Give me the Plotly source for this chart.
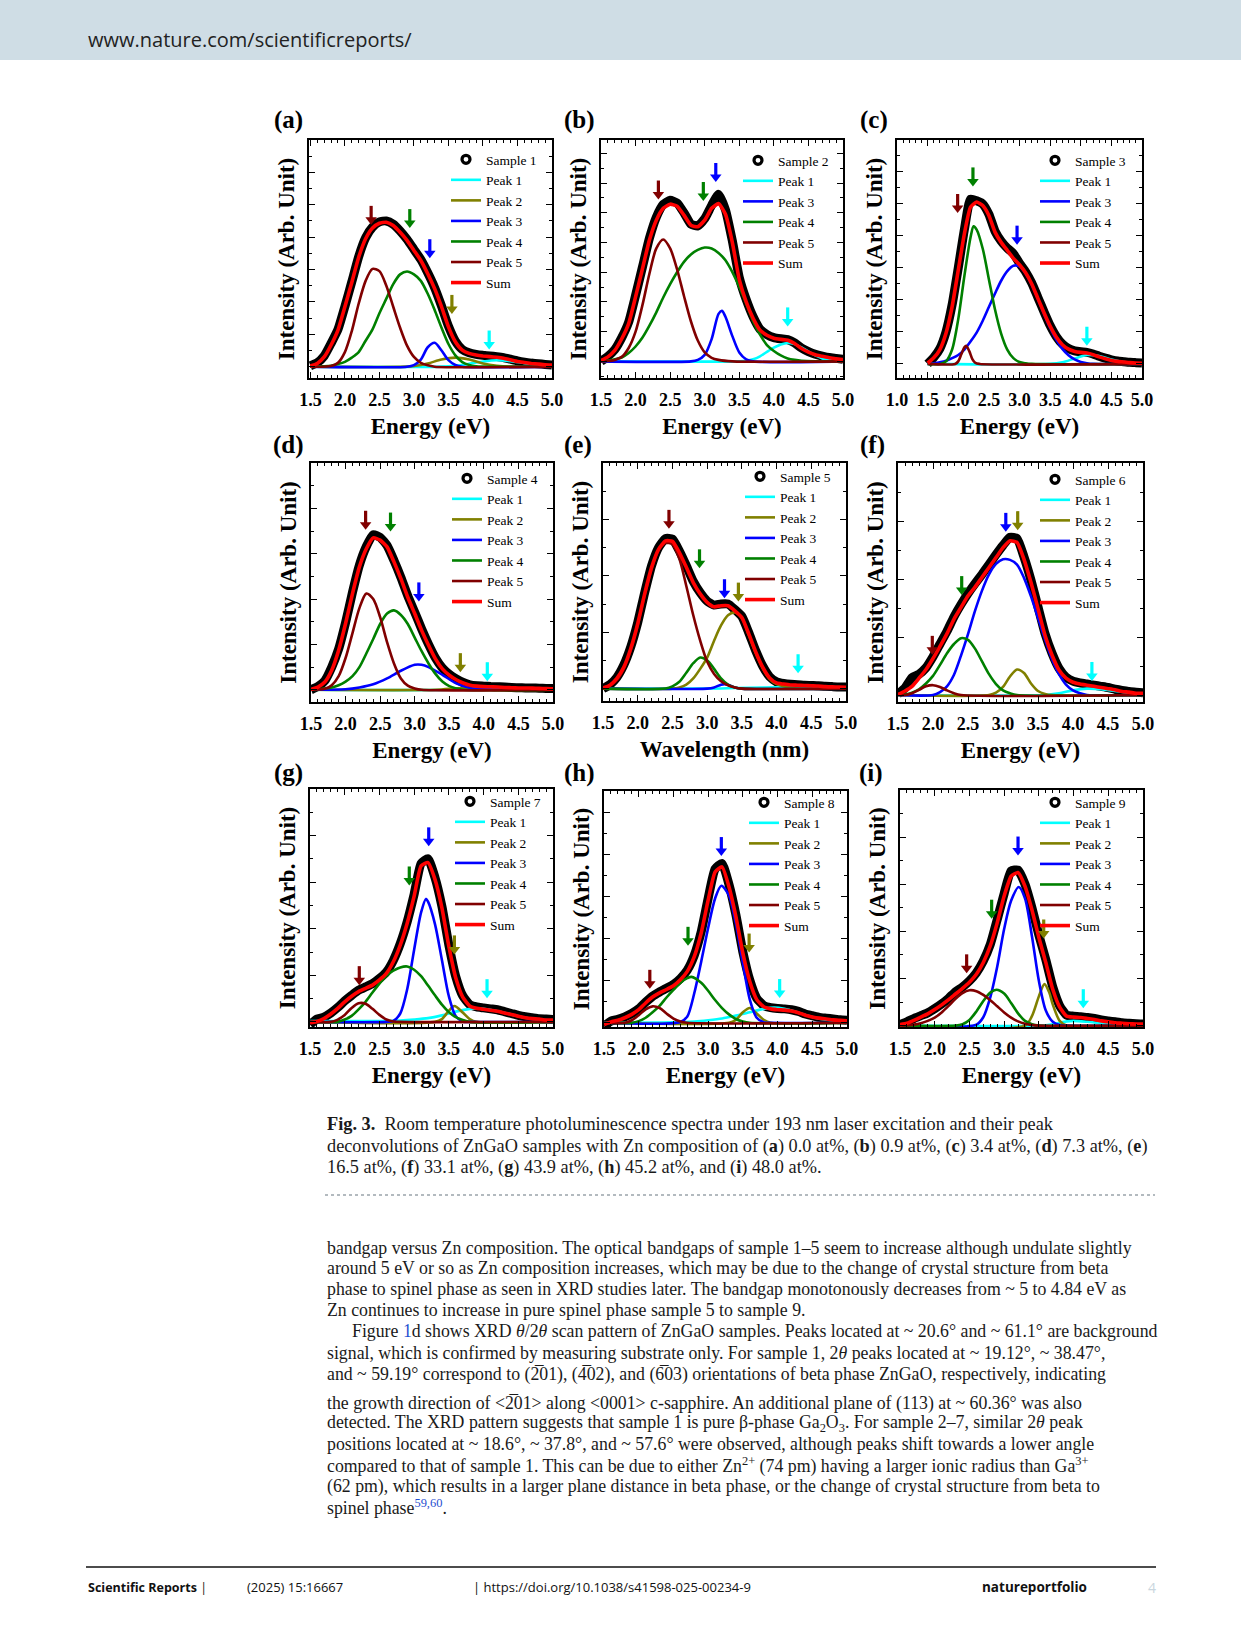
import plotly.graph_objects as go

W, H = 1241, 1630
SERIF = "Liberation Serif"
SANS = "Open Sans"

# ---------------- data ----------------
ENERGY = [1.5, 1.6, 1.7, 1.8, 1.9, 2.0, 2.1, 2.2, 2.3, 2.4, 2.5, 2.6, 2.7, 2.8, 2.9, 3.0,
          3.1, 3.2, 3.3, 3.4, 3.5, 3.6, 3.7, 3.8, 3.9, 4.0, 4.1, 4.2, 4.3, 4.4, 4.5, 4.6,
          4.7, 4.8, 4.9, 5.0]

# (a) Sample 1
A_SAMPLE = [0.03, 0.12, 0.33, 0.72, 1.15, 1.86, 2.62, 3.40, 3.98, 4.31, 4.47, 4.50, 4.40, 4.19, 3.93, 3.62,
            3.31, 2.90, 2.44, 1.87, 1.25, 0.79, 0.53, 0.43, 0.38, 0.35, 0.33, 0.31, 0.28, 0.23, 0.18, 0.14,
            0.11, 0.09, 0.07, 0.05]
A_SUM = [0.02, 0.10, 0.30, 0.67, 1.13, 1.85, 2.60, 3.38, 3.95, 4.28, 4.43, 4.46, 4.36, 4.15, 3.90, 3.59,
         3.28, 2.87, 2.41, 1.85, 1.23, 0.77, 0.51, 0.41, 0.36, 0.33, 0.31, 0.29, 0.26, 0.21, 0.16, 0.13,
         0.10, 0.08, 0.06, 0.05]
A_P1_X = [1.5, 3.4, 3.6, 3.8, 4.0, 4.2, 4.4, 4.6, 4.8, 5.0]
A_P1_Y = [0, 0, 0.03, 0.09, 0.16, 0.20, 0.17, 0.11, 0.06, 0.03]
A_P2_X = [1.5, 2.9, 3.0, 3.2, 3.4, 3.6, 3.8, 4.0, 4.2, 4.4, 5.0]
A_P2_Y = [0, 0, 0.02, 0.10, 0.22, 0.28, 0.22, 0.10, 0.03, 0, 0]
A_P3_X = [1.5, 2.9, 3.0, 3.1, 3.2, 3.3, 3.4, 3.5, 3.6, 3.7, 5.0]
A_P3_Y = [0, 0, 0.05, 0.22, 0.60, 0.74, 0.50, 0.20, 0.05, 0, 0]
A_P4_X = [1.5, 1.7, 1.8, 1.9, 2.0, 2.1, 2.2, 2.3, 2.4, 2.5, 2.6, 2.7, 2.8, 2.9, 3.0, 3.1, 3.2, 3.3,
          3.4, 3.5, 3.6, 3.7, 3.8, 3.9, 4.0, 5.0]
A_P4_Y = [0, 0.01, 0.03, 0.08, 0.15, 0.28, 0.45, 0.80, 1.15, 1.65, 2.10, 2.55, 2.85, 2.94, 2.85, 2.65,
          2.25, 1.75, 1.20, 0.70, 0.35, 0.14, 0.05, 0.01, 0, 0]
A_P5_X = [1.5, 1.8, 1.9, 2.0, 2.1, 2.2, 2.3, 2.4, 2.5, 2.6, 2.7, 2.8, 2.9, 3.0, 3.1, 3.2, 3.3, 5.0]
A_P5_Y = [0, 0.02, 0.12, 0.45, 1.10, 1.95, 2.65, 3.02, 2.95, 2.50, 1.85, 1.20, 0.65, 0.30, 0.12, 0.04, 0, 0]
A_ARROW_X = [2.38, 2.94, 3.23, 3.55, 4.09]
A_ARROW_Y = [4.41, 4.31, 3.38, 1.66, 0.56]
A_ARROW_PEAK = [5, 4, 3, 2, 1]

# (b) Sample 2
B_SAMPLE = [0.0, 0.17, 0.40, 0.80, 1.32, 2.22, 3.18, 4.14, 4.85, 5.28, 5.42, 5.33, 5.00, 4.62, 4.56, 4.80,
            5.25, 5.62, 5.10, 4.05, 2.82, 2.08, 1.50, 1.08, 0.90, 0.80, 0.76, 0.73, 0.62, 0.45, 0.33, 0.24,
            0.18, 0.13, 0.10, 0.07]
B_SUM = [0.03, 0.15, 0.37, 0.76, 1.27, 2.17, 3.12, 4.08, 4.75, 5.15, 5.29, 5.22, 4.92, 4.58, 4.53, 4.75,
         5.15, 5.31, 4.95, 4.00, 2.75, 2.00, 1.45, 1.05, 0.88, 0.78, 0.74, 0.71, 0.60, 0.43, 0.31, 0.22,
         0.17, 0.12, 0.09, 0.06]
B_P1_X = [1.5, 3.5, 3.6, 3.7, 3.8, 3.9, 4.0, 4.1, 4.2, 4.3, 4.4, 4.5, 4.6, 4.7, 4.8, 4.9, 5.0]
B_P1_Y = [0, 0, 0.02, 0.07, 0.17, 0.32, 0.46, 0.57, 0.62, 0.58, 0.47, 0.33, 0.20, 0.10, 0.05, 0.02, 0]
B_P3_X = [1.5, 2.8, 2.9, 3.0, 3.1, 3.2, 3.25, 3.3, 3.4, 3.5, 3.6, 3.7, 5.0]
B_P3_Y = [0, 0, 0.05, 0.22, 0.75, 1.60, 1.70, 1.50, 0.85, 0.30, 0.07, 0, 0]
B_P4_X = [1.5, 1.6, 1.7, 1.8, 1.9, 2.0, 2.1, 2.2, 2.3, 2.4, 2.5, 2.6, 2.7, 2.8, 2.9, 3.0, 3.1, 3.2,
          3.3, 3.4, 3.5, 3.6, 3.7, 3.8, 3.9, 4.0, 4.1, 4.2, 4.3, 4.4, 5.0]
B_P4_Y = [0.01, 0.03, 0.07, 0.13, 0.28, 0.50, 0.80, 1.20, 1.65, 2.15, 2.60, 3.00, 3.35, 3.60, 3.75, 3.83,
          3.80, 3.65, 3.40, 3.00, 2.50, 1.95, 1.35, 0.90, 0.55, 0.35, 0.20, 0.10, 0.05, 0.02, 0]
B_P5_X = [1.5, 1.6, 1.7, 1.8, 1.9, 2.0, 2.1, 2.2, 2.3, 2.4, 2.5, 2.6, 2.7, 2.8, 2.9, 3.0, 3.1, 3.2, 3.4, 5.0]
B_P5_Y = [0, 0.01, 0.05, 0.15, 0.45, 1.00, 1.90, 2.95, 3.80, 4.10, 3.80, 3.10, 2.20, 1.35, 0.70, 0.30,
          0.12, 0.05, 0, 0]
B_ARROW_X = [2.33, 2.98, 3.16, 4.20]
B_ARROW_Y = [5.48, 5.43, 6.07, 1.21]
B_ARROW_PEAK = [5, 4, 3, 1]

# (c) Sample 3
C_SAMPLE = [0.0, 0.20, 0.48, 1.00, 1.85, 3.00, 4.20, 5.15, 5.10, 5.00, 4.68, 4.15, 3.84, 3.62, 3.45, 3.15,
            2.88, 2.53, 2.08, 1.63, 1.20, 0.86, 0.62, 0.48, 0.41, 0.38, 0.36, 0.31, 0.24, 0.18, 0.13, 0.09,
            0.07, 0.05, 0.04, 0.03]
C_SUM = [0.03, 0.19, 0.45, 0.96, 1.79, 2.93, 4.07, 4.90, 5.06, 4.95, 4.64, 4.12, 3.80, 3.55, 3.30, 3.10,
         2.85, 2.50, 2.05, 1.60, 1.18, 0.84, 0.60, 0.46, 0.39, 0.36, 0.34, 0.29, 0.22, 0.16, 0.11, 0.08,
         0.06, 0.04, 0.03, 0.02]
C_P1_X = [1.5, 3.5, 3.7, 3.9, 4.1, 4.3, 4.5, 4.7, 4.9, 5.0]
C_P1_Y = [0, 0, 0.05, 0.17, 0.28, 0.25, 0.14, 0.06, 0.02, 0.01]
C_P3_X = [1.5, 1.6, 1.8, 1.9, 2.0, 2.1, 2.2, 2.3, 2.4, 2.5, 2.6, 2.7, 2.8, 2.9, 3.0, 3.1, 3.2, 3.3,
          3.4, 3.5, 3.6, 3.7, 3.8, 3.9, 4.0, 4.1, 4.2, 5.0]
C_P3_Y = [0, 0.02, 0.10, 0.18, 0.28, 0.45, 0.70, 0.98, 1.35, 1.78, 2.20, 2.60, 2.90, 3.07, 3.05, 2.83,
          2.48, 2.03, 1.57, 1.13, 0.76, 0.47, 0.27, 0.14, 0.06, 0.02, 0, 0]
C_P4_X = [1.5, 1.7, 1.8, 1.9, 2.0, 2.1, 2.2, 2.25, 2.3, 2.4, 2.5, 2.6, 2.7, 2.8, 2.9, 3.0, 3.1, 3.2, 5.0]
C_P4_Y = [0, 0, 0.08, 0.45, 1.40, 2.75, 3.95, 4.30, 4.20, 3.60, 2.65, 1.70, 0.95, 0.45, 0.18, 0.06, 0.02, 0, 0]
C_P5_X = [1.5, 1.95, 2.0, 2.05, 2.1, 2.13, 2.18, 2.23, 2.28, 2.35, 5.0]
C_P5_Y = [0, 0, 0.08, 0.30, 0.52, 0.57, 0.40, 0.15, 0.03, 0, 0]
C_ARROW_X = [1.99, 2.24, 2.96, 4.10]
C_ARROW_Y = [4.75, 5.58, 3.76, 0.60]
C_ARROW_PEAK = [5, 4, 3, 1]

# (d) Sample 4
D_SAMPLE = [0.0, 0.07, 0.20, 0.50, 0.90, 1.48, 2.15, 2.75, 3.16, 3.42, 3.36, 3.18, 2.85, 2.48, 2.07, 1.71,
            1.34, 1.00, 0.70, 0.48, 0.34, 0.24, 0.16, 0.11, 0.09, 0.08, 0.07, 0.065, 0.06, 0.05, 0.045,
            0.04, 0.04, 0.035, 0.03, 0.03]
D_SUM = [0.01, 0.06, 0.17, 0.43, 0.87, 1.46, 2.12, 2.71, 3.11, 3.35, 3.30, 3.15, 2.82, 2.45, 2.04, 1.68,
         1.31, 0.98, 0.68, 0.46, 0.32, 0.22, 0.15, 0.10, 0.08, 0.07, 0.065, 0.06, 0.05, 0.045, 0.04, 0.04,
         0.035, 0.03, 0.025, 0.02]
D_P1_X = [1.5, 3.5, 3.8, 4.0, 4.3, 4.6, 5.0]
D_P1_Y = [0, 0, 0.03, 0.05, 0.03, 0.01, 0]
D_P2_X = [1.5, 3.3, 3.7, 4.1, 5.0]
D_P2_Y = [0, 0, 0.04, 0, 0]
D_P3_X = [1.5, 2.0, 2.2, 2.4, 2.6, 2.8, 3.0, 3.1, 3.2, 3.4, 3.6, 3.8, 4.0, 5.0]
D_P3_Y = [0, 0.01, 0.05, 0.12, 0.25, 0.42, 0.55, 0.55, 0.50, 0.33, 0.14, 0.04, 0.01, 0]
D_P4_X = [1.5, 1.6, 1.8, 1.9, 2.0, 2.1, 2.2, 2.3, 2.4, 2.5, 2.6, 2.7, 2.8, 2.9, 3.0, 3.1, 3.2, 3.3,
          3.4, 3.5, 3.6, 3.7, 5.0]
D_P4_Y = [0, 0.01, 0.05, 0.10, 0.18, 0.30, 0.50, 0.80, 1.12, 1.45, 1.68, 1.75, 1.65, 1.45, 1.15, 0.85,
          0.58, 0.35, 0.18, 0.08, 0.03, 0, 0]
D_P5_X = [1.5, 1.7, 1.8, 1.9, 2.0, 2.1, 2.2, 2.3, 2.4, 2.5, 2.6, 2.7, 2.8, 2.9, 3.0, 3.1, 5.0]
D_P5_Y = [0, 0.02, 0.10, 0.30, 0.70, 1.25, 1.80, 2.12, 2.00, 1.60, 1.05, 0.58, 0.25, 0.09, 0.03, 0, 0]
D_ARROW_X = [2.29, 2.65, 3.06, 3.66, 4.05]
D_ARROW_Y = [3.55, 3.51, 1.97, 0.41, 0.21]
D_ARROW_PEAK = [5, 4, 3, 2, 1]

# (e) Sample 5
E_SAMPLE = [0.0, 0.07, 0.20, 0.42, 0.74, 1.17, 1.70, 2.18, 2.50, 2.66, 2.65, 2.44, 2.18, 1.90, 1.70, 1.55,
            1.48, 1.50, 1.50, 1.40, 1.28, 0.99, 0.67, 0.40, 0.21, 0.12, 0.09, 0.075, 0.07, 0.06, 0.055,
            0.05, 0.04, 0.035, 0.03, 0.03]
E_SUM = [0.01, 0.06, 0.18, 0.38, 0.71, 1.15, 1.68, 2.15, 2.47, 2.62, 2.61, 2.41, 2.15, 1.88, 1.68, 1.53,
         1.45, 1.47, 1.47, 1.38, 1.26, 0.97, 0.65, 0.38, 0.19, 0.10, 0.08, 0.065, 0.06, 0.055, 0.05,
         0.045, 0.035, 0.03, 0.028, 0.025]
E_P1_X = [1.5, 3.0, 3.4, 3.8, 4.2, 4.6, 5.0]
E_P1_Y = [0, 0, 0.01, 0.02, 0.02, 0.01, 0]
E_P2_X = [1.5, 2.5, 2.6, 2.7, 2.8, 2.9, 3.0, 3.1, 3.2, 3.3, 3.4, 3.5, 3.6, 3.7, 3.8, 3.9, 4.0, 4.1,
          4.2, 4.3, 5.0]
E_P2_Y = [0, 0, 0.02, 0.07, 0.18, 0.35, 0.55, 0.85, 1.12, 1.30, 1.35, 1.25, 0.95, 0.63, 0.36, 0.17,
          0.08, 0.04, 0.015, 0, 0]
E_P3_X = [1.5, 3.0, 3.1, 3.2, 3.25, 3.3, 3.4, 3.5, 5.0]
E_P3_Y = [0, 0, 0.02, 0.07, 0.08, 0.07, 0.02, 0, 0]
E_P4_X = [1.5, 2.4, 2.5, 2.6, 2.7, 2.8, 2.9, 3.0, 3.1, 3.2, 3.3, 3.4, 3.5, 5.0]
E_P4_Y = [0, 0, 0.04, 0.12, 0.28, 0.45, 0.55, 0.50, 0.35, 0.18, 0.07, 0.02, 0, 0]
E_P5_X = [1.5, 1.6, 1.7, 1.8, 1.9, 2.0, 2.1, 2.2, 2.3, 2.4, 2.5, 2.6, 2.7, 2.8, 2.9, 3.0, 3.1, 3.2,
          3.3, 3.4, 3.5, 5.0]
E_P5_Y = [0, 0.05, 0.15, 0.35, 0.68, 1.12, 1.65, 2.12, 2.45, 2.58, 2.56, 2.30, 1.82, 1.30, 0.85, 0.48,
          0.26, 0.13, 0.06, 0.02, 0, 0]
E_ARROW_X = [2.45, 2.89, 3.25, 3.45, 4.31]
E_ARROW_Y = [2.85, 2.15, 1.62, 1.56, 0.29]
E_ARROW_PEAK = [5, 4, 3, 2, 1]

# (f) Sample 6
F_SAMPLE = [0.02, 0.12, 0.30, 0.36, 0.47, 0.66, 0.88, 1.10, 1.35, 1.56, 1.75, 1.92, 2.08, 2.25, 2.42, 2.58,
            2.72, 2.70, 2.38, 1.98, 1.52, 1.06, 0.72, 0.46, 0.31, 0.24, 0.21, 0.19, 0.17, 0.15, 0.13, 0.10,
            0.08, 0.06, 0.05, 0.04]
F_SUM = [0.01, 0.07, 0.15, 0.29, 0.44, 0.63, 0.84, 1.06, 1.31, 1.51, 1.71, 1.86, 2.03, 2.20, 2.37, 2.54,
         2.66, 2.63, 2.34, 1.94, 1.49, 1.03, 0.69, 0.43, 0.29, 0.22, 0.19, 0.17, 0.15, 0.13, 0.11, 0.09,
         0.06, 0.05, 0.03, 0.03]
F_P1_X = [1.5, 3.6, 3.8, 4.0, 4.2, 4.4, 4.6, 4.8, 5.0]
F_P1_Y = [0, 0, 0.03, 0.08, 0.11, 0.10, 0.07, 0.04, 0.02]
F_P2_X = [1.5, 2.8, 2.9, 3.0, 3.1, 3.2, 3.3, 3.4, 3.5, 3.6, 3.7, 5.0]
F_P2_Y = [0, 0, 0.04, 0.14, 0.32, 0.44, 0.38, 0.20, 0.07, 0.02, 0, 0]
F_P3_X = [1.5, 2.0, 2.1, 2.2, 2.3, 2.4, 2.5, 2.6, 2.7, 2.8, 2.9, 3.0, 3.1, 3.2, 3.3, 3.4, 3.5, 3.6,
          3.7, 3.8, 3.9, 4.0, 4.1, 4.2, 5.0]
F_P3_Y = [0, 0, 0.05, 0.15, 0.35, 0.68, 1.05, 1.45, 1.80, 2.08, 2.26, 2.34, 2.33, 2.25, 2.02, 1.70,
          1.33, 0.96, 0.62, 0.36, 0.18, 0.08, 0.03, 0, 0]
F_P4_X = [1.5, 1.6, 1.7, 1.8, 1.9, 2.0, 2.1, 2.2, 2.3, 2.4, 2.5, 2.6, 2.7, 2.8, 2.9, 3.0, 3.1, 3.2, 5.0]
F_P4_Y = [0, 0.01, 0.04, 0.10, 0.20, 0.33, 0.52, 0.72, 0.88, 0.98, 0.95, 0.80, 0.58, 0.36, 0.19, 0.08,
          0.03, 0, 0]
F_P5_X = [1.5, 1.6, 1.7, 1.8, 1.9, 2.0, 2.1, 2.2, 2.3, 2.4, 5.0]
F_P5_Y = [0, 0, 0.03, 0.09, 0.15, 0.17, 0.14, 0.08, 0.03, 0, 0]
F_ARROW_X = [1.99, 2.41, 3.04, 3.21, 4.27]
F_ARROW_Y = [0.71, 1.74, 2.83, 2.86, 0.26]
F_ARROW_PEAK = [5, 4, 3, 2, 1]

# (g) Sample 7
G_SAMPLE = [-0.06, 0.06, 0.10, 0.19, 0.31, 0.45, 0.57, 0.68, 0.75, 0.82, 0.93, 1.07, 1.32, 1.68, 2.15, 2.74,
            3.40, 3.50, 3.10, 2.48, 1.65, 0.97, 0.56, 0.37, 0.32, 0.30, 0.28, 0.26, 0.22, 0.18, 0.14, 0.11,
            0.09, 0.07, 0.06, 0.05]
G_SUM = [-0.02, 0.01, 0.07, 0.17, 0.29, 0.43, 0.55, 0.65, 0.72, 0.79, 0.90, 1.04, 1.29, 1.65, 2.12, 2.70,
         3.35, 3.42, 3.06, 2.45, 1.62, 0.94, 0.53, 0.34, 0.29, 0.27, 0.25, 0.23, 0.19, 0.16, 0.12, 0.09,
         0.07, 0.06, 0.04, 0.04]
G_P1_X = [1.5, 2.0, 2.5, 2.8, 3.0, 3.2, 3.4, 3.6, 3.8, 3.9, 4.0, 4.2, 4.4, 4.6, 4.8, 5.0]
G_P1_Y = [0.02, 0.02, 0.02, 0.03, 0.05, 0.08, 0.14, 0.22, 0.28, 0.29, 0.28, 0.23, 0.16, 0.09, 0.05, 0.03]
G_P2_X = [1.5, 3.3, 3.4, 3.5, 3.58, 3.7, 3.8, 3.9, 5.0]
G_P2_Y = [0, 0, 0.06, 0.24, 0.34, 0.20, 0.06, 0, 0]
G_P3_X = [1.5, 2.6, 2.7, 2.8, 2.9, 3.0, 3.1, 3.17, 3.2, 3.3, 3.4, 3.5, 3.6, 3.7, 3.8, 5.0]
G_P3_Y = [0, 0, 0.02, 0.18, 0.70, 1.55, 2.35, 2.64, 2.58, 2.10, 1.33, 0.55, 0.12, 0.01, 0, 0]
G_P4_X = [1.5, 1.9, 2.0, 2.1, 2.2, 2.3, 2.4, 2.5, 2.6, 2.7, 2.8, 2.9, 3.0, 3.1, 3.2, 3.3, 3.4, 3.5,
          3.6, 3.7, 3.8, 5.0]
G_P4_Y = [0, 0, 0.05, 0.13, 0.27, 0.43, 0.63, 0.82, 0.99, 1.10, 1.17, 1.19, 1.12, 0.98, 0.78, 0.57,
          0.37, 0.21, 0.10, 0.04, 0, 0]
G_P5_X = [1.5, 1.8, 1.9, 2.0, 2.1, 2.2, 2.3, 2.4, 2.5, 2.6, 2.7, 2.8, 5.0]
G_P5_Y = [0, 0, 0.05, 0.15, 0.30, 0.40, 0.39, 0.28, 0.15, 0.05, 0.01, 0, 0]
G_ARROW_X = [2.21, 2.93, 3.21, 3.58, 4.05]
G_ARROW_Y = [0.81, 2.95, 3.79, 1.47, 0.53]
G_ARROW_PEAK = [5, 4, 3, 2, 1]

# (h) Sample 8
H_SAMPLE = [-0.08, 0.04, 0.08, 0.14, 0.22, 0.33, 0.49, 0.63, 0.73, 0.82, 0.91, 1.05, 1.25, 1.60, 2.16, 2.95,
            3.65, 3.78, 3.28, 2.56, 1.68, 1.01, 0.58, 0.41, 0.36, 0.34, 0.33, 0.31, 0.27, 0.21, 0.17, 0.13,
            0.11, 0.09, 0.07, 0.06]
H_SUM = [-0.04, 0.02, 0.06, 0.12, 0.20, 0.31, 0.47, 0.61, 0.71, 0.79, 0.88, 1.02, 1.22, 1.57, 2.13, 2.91,
         3.58, 3.70, 3.23, 2.52, 1.65, 0.98, 0.55, 0.38, 0.33, 0.31, 0.30, 0.28, 0.24, 0.18, 0.14, 0.11,
         0.09, 0.07, 0.06, 0.05]
H_P1_X = [1.5, 2.5, 2.8, 3.0, 3.2, 3.4, 3.6, 3.8, 3.95, 4.1, 4.3, 4.5, 4.7, 4.9, 5.0]
H_P1_Y = [0, 0.01, 0.03, 0.06, 0.10, 0.17, 0.25, 0.33, 0.36, 0.33, 0.24, 0.14, 0.07, 0.03, 0.02]
H_P2_X = [1.5, 3.3, 3.4, 3.5, 3.6, 3.7, 3.8, 3.9, 5.0]
H_P2_Y = [0, 0, 0.07, 0.25, 0.35, 0.22, 0.07, 0, 0]
H_P3_X = [1.5, 2.6, 2.7, 2.8, 2.9, 3.0, 3.1, 3.19, 3.3, 3.4, 3.5, 3.6, 3.7, 3.8, 3.9, 5.0]
H_P3_Y = [0, 0.02, 0.15, 0.70, 1.45, 2.25, 2.95, 3.25, 3.02, 2.35, 1.42, 0.55, 0.12, 0.01, 0, 0]
H_P4_X = [1.5, 1.9, 2.0, 2.1, 2.2, 2.3, 2.4, 2.5, 2.6, 2.7, 2.76, 2.9, 3.0, 3.1, 3.2, 3.3, 3.4, 3.5,
          3.6, 5.0]
H_P4_Y = [0, 0, 0.04, 0.12, 0.25, 0.40, 0.60, 0.78, 0.95, 1.06, 1.09, 0.95, 0.76, 0.54, 0.35, 0.20,
          0.09, 0.03, 0, 0]
H_P5_X = [1.5, 1.8, 1.9, 2.0, 2.1, 2.2, 2.3, 2.4, 2.5, 2.6, 2.7, 5.0]
H_P5_Y = [0, 0, 0.06, 0.18, 0.32, 0.39, 0.35, 0.22, 0.10, 0.03, 0, 0]
H_ARROW_X = [2.16, 2.71, 3.19, 3.59, 4.03]
H_ARROW_Y = [0.83, 1.85, 3.98, 1.69, 0.61]
H_ARROW_PEAK = [5, 4, 3, 2, 1]

# (i) Sample 9
I_SAMPLE = [0.02, 0.08, 0.15, 0.21, 0.27, 0.36, 0.46, 0.58, 0.72, 0.82, 0.95, 1.12, 1.37, 1.72, 2.25, 2.80,
            3.28, 3.30, 3.00, 2.50, 1.92, 1.40, 0.82, 0.42, 0.22, 0.20, 0.19, 0.17, 0.15, 0.12, 0.10, 0.08,
            0.06, 0.05, 0.04, 0.035]
I_SUM = [0.02, 0.05, 0.11, 0.18, 0.25, 0.34, 0.44, 0.55, 0.67, 0.79, 0.92, 1.09, 1.34, 1.69, 2.18, 2.75,
         3.17, 3.25, 2.96, 2.46, 1.87, 1.34, 0.77, 0.39, 0.20, 0.18, 0.17, 0.15, 0.13, 0.10, 0.08, 0.06,
         0.05, 0.04, 0.035, 0.03]
I_P1_X = [1.5, 3.5, 3.7, 3.9, 4.0, 4.2, 4.4, 4.7, 5.0]
I_P1_Y = [0, 0, 0.03, 0.09, 0.10, 0.08, 0.05, 0.02, 0.01]
I_P2_X = [1.5, 3.3, 3.4, 3.5, 3.58, 3.65, 3.7, 3.8, 3.9, 5.0]
I_P2_Y = [0, 0, 0.20, 0.62, 0.88, 0.70, 0.45, 0.10, 0, 0]
I_P3_X = [1.5, 2.6, 2.7, 2.8, 2.9, 3.0, 3.1, 3.21, 3.3, 3.4, 3.5, 3.6, 3.7, 3.8, 3.9, 5.0]
I_P3_Y = [0, 0.02, 0.18, 0.60, 1.25, 2.05, 2.65, 2.94, 2.70, 1.90, 0.95, 0.32, 0.08, 0.01, 0, 0]
I_P4_X = [1.5, 2.3, 2.4, 2.5, 2.6, 2.7, 2.8, 2.89, 3.0, 3.1, 3.2, 3.3, 3.4, 3.5, 5.0]
I_P4_Y = [0, 0, 0.03, 0.12, 0.30, 0.52, 0.70, 0.76, 0.68, 0.48, 0.26, 0.10, 0.03, 0, 0]
I_P5_X = [1.5, 1.7, 1.8, 1.9, 2.0, 2.1, 2.2, 2.3, 2.4, 2.5, 2.6, 2.7, 2.8, 2.9, 3.0, 3.1, 3.2, 3.3,
          3.4, 3.5, 5.0]
I_P5_Y = [0, 0.02, 0.05, 0.10, 0.17, 0.28, 0.42, 0.57, 0.69, 0.75, 0.73, 0.65, 0.54, 0.41, 0.28, 0.17,
          0.09, 0.04, 0.01, 0, 0]
I_ARROW_X = [2.46, 2.82, 3.20, 3.57, 4.14]
I_ARROW_Y = [1.13, 2.29, 3.63, 1.87, 0.39]
I_ARROW_PEAK = [5, 4, 3, 2, 1]

PANEL_TAGS = ["(a)", "(b)", "(c)", "(d)", "(e)", "(f)", "(g)", "(h)", "(i)"]
SAMPLE_NAMES = ["Sample 1", "Sample 2", "Sample 3", "Sample 4", "Sample 5",
                "Sample 6", "Sample 7", "Sample 8", "Sample 9"]
X_TITLES = ["Energy (eV)", "Energy (eV)", "Energy (eV)", "Energy (eV)", "Wavelength (nm)",
            "Energy (eV)", "Energy (eV)", "Energy (eV)", "Energy (eV)"]
Y_TITLE = "Intensity (Arb. Unit)"

# ---------------- styling ----------------
PEAK_COLORS = {1: "#00FFFF", 2: "#808000", 3: "#0000FF", 4: "#008000", 5: "#800000"}
SUM_COLOR = "#FF0000"

PANELS = [
    dict(sample=A_SAMPLE, total=A_SUM,
         peaks={1: (A_P1_X, A_P1_Y), 2: (A_P2_X, A_P2_Y), 3: (A_P3_X, A_P3_Y), 4: (A_P4_X, A_P4_Y), 5: (A_P5_X, A_P5_Y)},
         arrows=(A_ARROW_X, A_ARROW_Y, A_ARROW_PEAK), xr=[1.48, 5.0], x0=1.5, yr=[-0.35, 7.0],
         box=(309, 552, 140, 378), leg=(446, 144), tag=(288, 120)),
    dict(sample=B_SAMPLE, total=B_SUM,
         peaks={1: (B_P1_X, B_P1_Y), 3: (B_P3_X, B_P3_Y), 4: (B_P4_X, B_P4_Y), 5: (B_P5_X, B_P5_Y)},
         arrows=(B_ARROW_X, B_ARROW_Y, B_ARROW_PEAK), xr=[1.5, 5.0], x0=1.5, yr=[-0.56, 7.45],
         box=(601, 843, 140, 378), leg=(738, 145), tag=(579, 120)),
    dict(sample=C_SAMPLE, total=C_SUM,
         peaks={1: (C_P1_X, C_P1_Y), 3: (C_P3_X, C_P3_Y), 4: (C_P4_X, C_P4_Y), 5: (C_P5_X, C_P5_Y)},
         arrows=(C_ARROW_X, C_ARROW_Y, C_ARROW_PEAK), xr=[1.0, 5.0], x0=1.0, yr=[-0.44, 7.0],
         box=(897, 1142, 140, 378), leg=(1035, 145), tag=(874, 120)),
    dict(sample=D_SAMPLE, total=D_SUM,
         peaks={1: (D_P1_X, D_P1_Y), 2: (D_P2_X, D_P2_Y), 3: (D_P3_X, D_P3_Y), 4: (D_P4_X, D_P4_Y), 5: (D_P5_X, D_P5_Y)},
         arrows=(D_ARROW_X, D_ARROW_Y, D_ARROW_PEAK), xr=[1.5, 5.0], x0=1.5, yr=[-0.27, 5.0],
         box=(311, 553, 463, 702), leg=(447, 463), tag=(288, 445)),
    dict(sample=E_SAMPLE, total=E_SUM,
         peaks={1: (E_P1_X, E_P1_Y), 2: (E_P2_X, E_P2_Y), 3: (E_P3_X, E_P3_Y), 4: (E_P4_X, E_P4_Y), 5: (E_P5_X, E_P5_Y)},
         arrows=(E_ARROW_X, E_ARROW_Y, E_ARROW_PEAK), xr=[1.5, 5.0], x0=1.5, yr=[-0.22, 4.0],
         box=(603, 846, 463, 701), leg=(740, 461), tag=(578, 445)),
    dict(sample=F_SAMPLE, total=F_SUM,
         peaks={1: (F_P1_X, F_P1_Y), 2: (F_P2_X, F_P2_Y), 3: (F_P3_X, F_P3_Y), 4: (F_P4_X, F_P4_Y), 5: (F_P5_X, F_P5_Y)},
         arrows=(F_ARROW_X, F_ARROW_Y, F_ARROW_PEAK), xr=[1.5, 5.0], x0=1.5, yr=[-0.12, 4.0],
         box=(898, 1143, 463, 702), leg=(1035, 464), tag=(872, 445)),
    dict(sample=G_SAMPLE, total=G_SUM,
         peaks={1: (G_P1_X, G_P1_Y), 2: (G_P2_X, G_P2_Y), 3: (G_P3_X, G_P3_Y), 4: (G_P4_X, G_P4_Y), 5: (G_P5_X, G_P5_Y)},
         arrows=(G_ARROW_X, G_ARROW_Y, G_ARROW_PEAK), xr=[1.5, 5.0], x0=1.5, yr=[-0.11, 5.0],
         box=(310, 553, 789, 1027), leg=(450, 786), tag=(288, 773)),
    dict(sample=H_SAMPLE, total=H_SUM,
         peaks={1: (H_P1_X, H_P1_Y), 2: (H_P2_X, H_P2_Y), 3: (H_P3_X, H_P3_Y), 4: (H_P4_X, H_P4_Y), 5: (H_P5_X, H_P5_Y)},
         arrows=(H_ARROW_X, H_ARROW_Y, H_ARROW_PEAK), xr=[1.5, 5.0], x0=1.5, yr=[-0.1, 5.5],
         box=(604, 847, 791, 1027), leg=(744, 787), tag=(579, 773)),
    dict(sample=I_SAMPLE, total=I_SUM,
         peaks={1: (I_P1_X, I_P1_Y), 2: (I_P2_X, I_P2_Y), 3: (I_P3_X, I_P3_Y), 4: (I_P4_X, I_P4_Y), 5: (I_P5_X, I_P5_Y)},
         arrows=(I_ARROW_X, I_ARROW_Y, I_ARROW_PEAK), xr=[1.5, 5.0], x0=1.5, yr=[-0.03, 5.0],
         box=(900, 1143, 790, 1027), leg=(1035, 787), tag=(871, 773)),
]


def px(xp):
    """page x (pixels) -> paper x"""
    return xp / W


def py(yp):
    """page y (pixels) -> paper y"""
    return 1 - yp / H


fig = go.Figure()
layout = {}
annotations = []

ARROW_LEN_PX = 18      # total arrow length on screen
HEAD_PX = 8            # arrow head size

for i, p in enumerate(PANELS):
    n = i + 1
    sfx = "" if n == 1 else str(n)
    xa, ya, lg = "x" + sfx, "y" + sfx, "legend" + sfx
    l, r, t, b = p["box"]

    # measured data: dense black points drawn as a thick band
    fig.add_trace(go.Scatter(x=ENERGY, y=p["sample"], mode="lines", xaxis=xa, yaxis=ya,
                             line=dict(color="black", width=9, shape="spline", smoothing=0.5),
                             showlegend=False, hoverinfo="skip"))
    fig.add_trace(go.Scatter(x=[None], y=[None], mode="markers", xaxis=xa, yaxis=ya, legend=lg,
                             name=SAMPLE_NAMES[i],
                             marker=dict(symbol="circle", size=8, color="white",
                                         line=dict(color="black", width=3.2))))
    for k in [1, 2, 3, 4, 5]:
        if k in p["peaks"]:
            xs, ys = p["peaks"][k]
            fig.add_trace(go.Scatter(x=xs, y=ys, mode="lines", xaxis=xa, yaxis=ya, legend=lg,
                                     name="Peak %d" % k,
                                     line=dict(color=PEAK_COLORS[k], width=2.6, shape="spline", smoothing=0.8)))
    fig.add_trace(go.Scatter(x=ENERGY, y=p["total"], mode="lines", xaxis=xa, yaxis=ya, legend=lg,
                             name="Sum",
                             line=dict(color=SUM_COLOR, width=3.6, shape="spline", smoothing=0.5)))

    # peak-marking arrows (shaft + triangular head), tip at the data point
    unit = (p["yr"][1] - p["yr"][0]) / (b - t)   # data units per screen pixel
    ax_x, ax_y, ax_k = p["arrows"]
    for xv, yv, kk in zip(ax_x, ax_y, ax_k):
        col = PEAK_COLORS[kk]
        fig.add_trace(go.Scatter(x=[xv, xv], y=[yv + 5 * unit, yv + ARROW_LEN_PX * unit], mode="lines",
                                 xaxis=xa, yaxis=ya, showlegend=False, hoverinfo="skip",
                                 line=dict(color=col, width=3.2)))
        fig.add_trace(go.Scatter(x=[xv], y=[yv + (HEAD_PX / 2) * unit], mode="markers",
                                 xaxis=xa, yaxis=ya, showlegend=False, hoverinfo="skip",
                                 marker=dict(symbol="triangle-down", size=HEAD_PX + 2, color=col,
                                             line=dict(width=0))))

    tickfont = dict(family=SERIF, size=18, color="black", weight="bold")
    layout["xaxis" + sfx] = dict(
        domain=[px(l), px(r)], anchor=ya, range=p["xr"], tick0=p["x0"], dtick=0.5, tickformat=".1f",
        ticks="inside", ticklen=6, tickwidth=1.2, tickcolor="black", showline=True, linecolor="black",
        linewidth=1.6, mirror="allticks", showgrid=False, zeroline=False, tickfont=tickfont,
        ticklabelstandoff=5, automargin=False,
        minor=dict(dtick=0.1, ticks="inside", ticklen=3, tickwidth=1, tickcolor="black"),
        title=dict(text=X_TITLES[i], font=dict(family=SERIF, size=23, color="black", weight="bold"), standoff=8))
    layout["yaxis" + sfx] = dict(
        domain=[py(b), py(t)], anchor=xa, range=p["yr"], tick0=0, dtick=1, showticklabels=False,
        ticks="inside", ticklen=6, tickwidth=1.2, tickcolor="black", showline=True, linecolor="black",
        linewidth=1.6, mirror="allticks", showgrid=False, zeroline=False, automargin=False,
        minor=dict(dtick=0.5, ticks="inside", ticklen=3, tickwidth=1, tickcolor="black"),
        title=dict(text=Y_TITLE, font=dict(family=SERIF, size=23, color="black", weight="bold"), standoff=6))
    lx, ly = p["leg"]
    layout[lg] = dict(x=px(lx), y=py(ly), xanchor="left", yanchor="top", bgcolor="rgba(0,0,0,0)",
                      borderwidth=0, itemwidth=30, tracegroupgap=0,
                      font=dict(family=SERIF, size=13.5, color="black"))

    tx, ty = p["tag"]
    annotations.append(dict(x=px(tx), y=py(ty), xref="paper", yref="paper", text="<b>%s</b>" % PANEL_TAGS[i],
                            showarrow=False, xanchor="center", yanchor="middle",
                            font=dict(family=SERIF, size=25, color="black")))

# ---------------- page text ----------------
BLUE = "#1f4fd1"
CAPTION = [
    (1124, "<b>Fig. 3.</b>\u00a0\u00a0Room temperature photoluminescence spectra under 193 nm laser excitation and their peak"),
    (1146, "deconvolutions of ZnGaO samples with Zn composition of (<b>a</b>) 0.0 at%, (<b>b</b>) 0.9 at%, (<b>c</b>) 3.4 at%, (<b>d</b>) 7.3 at%, (<b>e</b>)"),
    (1167, "16.5 at%, (<b>f</b>) 33.1 at%, (<b>g</b>) 43.9 at%, (<b>h</b>) 45.2 at%, and (<b>i</b>) 48.0 at%."),
]
BODY = [
    (1248, 0, "bandgap versus Zn composition. The optical bandgaps of sample 1\u20135 seem to increase although undulate slightly"),
    (1268, 0, "around 5 eV or so as Zn composition increases, which may be due to the change of crystal structure from beta"),
    (1289, 0, "phase to spinel phase as seen in XRD studies later. The bandgap monotonously decreases from ~ 5 to 4.84 eV as"),
    (1310, 0, "Zn continues to increase in pure spinel phase sample 5 to sample 9."),
    (1331, 25, "Figure <span style='color:%s'>1</span>d shows XRD <i>\u03b8</i>/2<i>\u03b8</i> scan pattern of ZnGaO samples. Peaks located at ~ 20.6\u00b0 and ~ 61.1\u00b0 are background" % BLUE),
    (1353, 0, "signal, which is confirmed by measuring substrate only. For sample 1, 2<i>\u03b8</i> peaks located at ~ 19.12\u00b0, ~ 38.47\u00b0,"),
    (1374, 0, "and ~ 59.19\u00b0 correspond to (2\u030501), (4\u030502), and (6\u030503) orientations of beta phase ZnGaO, respectively, indicating"),
    (1403, 0, "the growth direction of &lt;2\u030501&gt; along &lt;0001&gt; c-sapphire. An additional plane of (113) at ~ 60.36\u00b0 was also"),
    (1423, 0, "detected. The XRD pattern suggests that sample 1 is pure \u03b2-phase Ga<sub>2</sub>O<sub>3</sub>. For sample 2\u20137, similar 2<i>\u03b8</i> peak"),
    (1444, 0, "positions located at ~ 18.6\u00b0, ~ 37.8\u00b0, and ~ 57.6\u00b0 were observed, although peaks shift towards a lower angle"),
    (1465, 0, "compared to that of sample 1. This can be due to either Zn<sup>2+</sup> (74 pm) having a larger ionic radius than Ga<sup>3+</sup>"),
    (1486, 0, "(62 pm), which results in a larger plane distance in beta phase, or the change of crystal structure from beta to"),
    (1507, 0, "spinel phase<sup><span style='color:%s'>59,60</span></sup>." % BLUE),
]
TEXT_X = 325

for yv, txt in CAPTION:
    annotations.append(dict(x=px(TEXT_X), y=py(yv), xref="paper", yref="paper", text=txt, showarrow=False,
                            xanchor="left", yanchor="middle", font=dict(family=SERIF, size=18.3, color="#1a1a1a")))
for yv, ind, txt in BODY:
    annotations.append(dict(x=px(TEXT_X + ind), y=py(yv), xref="paper", yref="paper", text=txt, showarrow=False,
                            xanchor="left", yanchor="middle", font=dict(family=SERIF, size=17.8, color="#1a1a1a")))

annotations.append(dict(x=px(86), y=py(40), xref="paper", yref="paper", text="www.nature.com/scientificreports/",
                        showarrow=False, xanchor="left", yanchor="middle",
                        font=dict(family=SANS, size=20, color="#222222")))
FOOTER = [
    (86, "<b>Scientific Reports</b> |", "#111111", 12.5),
    (245, "(2025) 15:16667", "#111111", 13),
    (471, "| https://doi.org/10.1038/s41598-025-00234-9", "#111111", 13),
    (980, "<b>natureportfolio</b>", "#111111", 13.5),
    (1146, "4", "#c9d6de", 14),
]
for xv, txt, col, fs in FOOTER:
    annotations.append(dict(x=px(xv), y=py(1587), xref="paper", yref="paper", text=txt, showarrow=False,
                            xanchor="left", yanchor="middle", font=dict(family=SANS, size=fs, color=col)))

shapes = [
    dict(type="rect", xref="paper", yref="paper", x0=0, x1=1, y0=py(60), y1=1,
         fillcolor="#cfdde5", line=dict(width=0), layer="below"),
    dict(type="line", xref="paper", yref="paper", x0=px(325), x1=px(1155), y0=py(1195), y1=py(1195),
         line=dict(color="#9aa4aa", width=1.5, dash="dot")),
    dict(type="line", xref="paper", yref="paper", x0=px(86), x1=px(1156), y0=py(1567), y1=py(1567),
         line=dict(color="#111111", width=1.5)),
]

fig.update_layout(width=W, height=H, margin=dict(l=0, r=0, t=0, b=0, pad=0, autoexpand=False),
                  paper_bgcolor="white", plot_bgcolor="white", hovermode=False,
                  annotations=annotations, shapes=shapes, showlegend=True, **layout)

fig.write_html("out.html", config={"displayModeBar": False, "responsive": False},
               post_script="document.documentElement.style.margin='0';document.body.style.margin='0';"
                           "document.documentElement.style.overflow='hidden';document.body.style.overflow='hidden';")
